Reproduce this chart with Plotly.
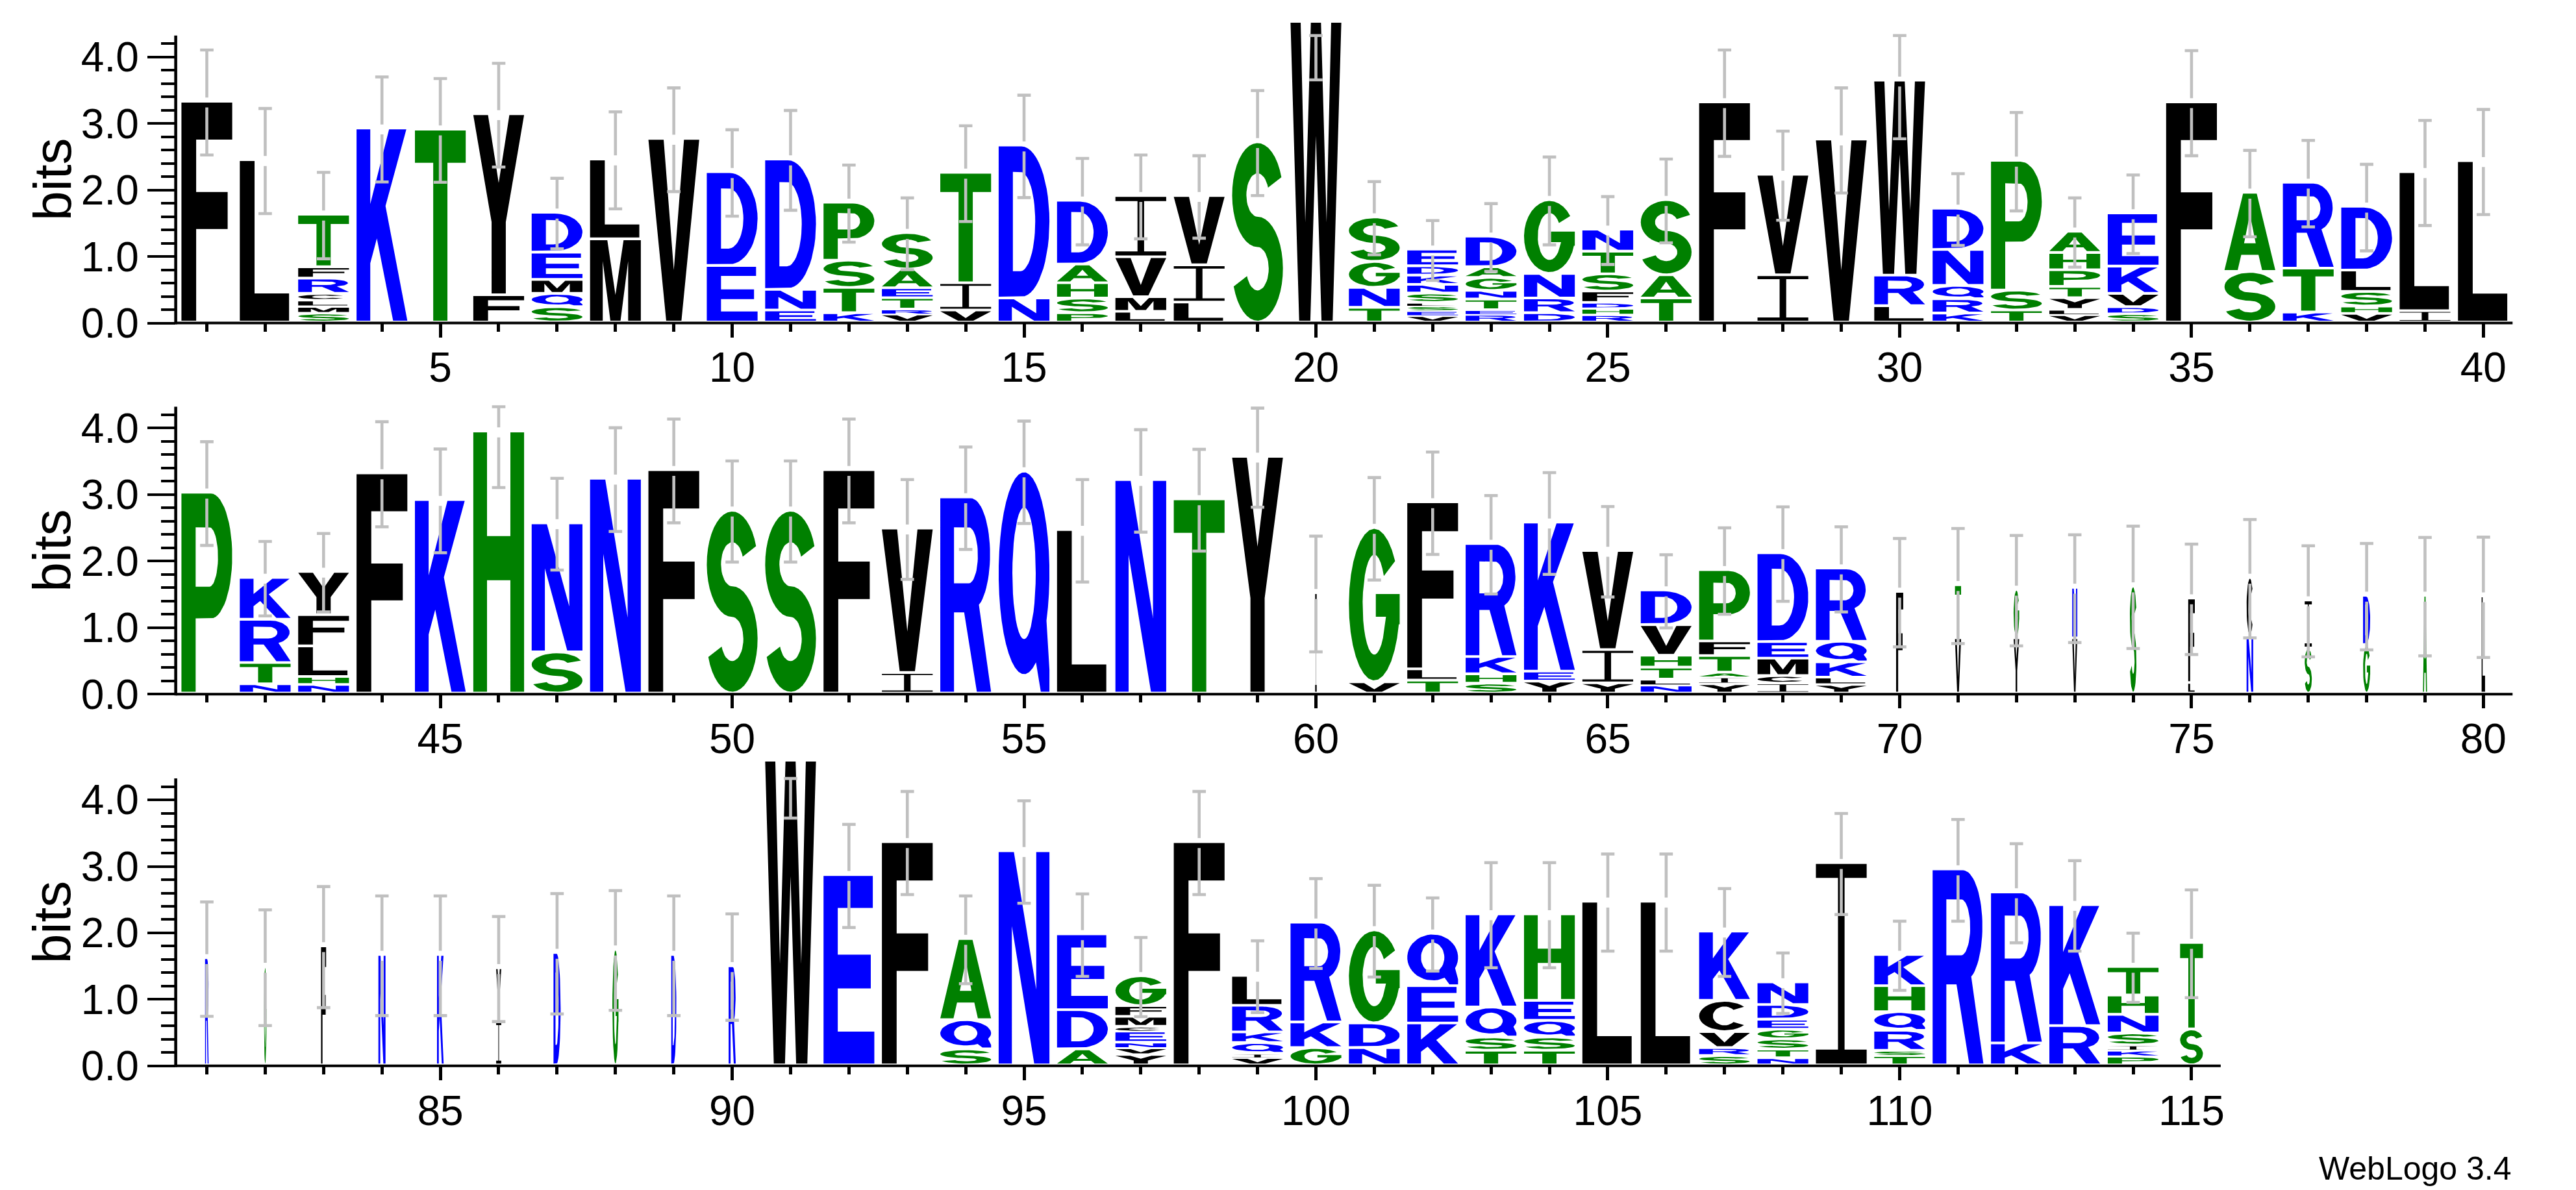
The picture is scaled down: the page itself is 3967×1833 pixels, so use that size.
import math
import plotly.graph_objects as go

# ---------------- data ----------------
STACK_LETTERS = [
    "F", "L", "TFRCLMS", "K", "T", "YF", "DEMQS", "LM", "V", "DE",
    "DNE", "PSTK", "SAETRV", "TIV", "DN", "DAHSP", "IVML", "VIL", "S", "W",
    "SGNT", "EDKNSLSEV", "DAGNTER", "GNRD", "NTSFDHR", "SAT", "F", "VI", "V", "WRL",
    "DNQRK", "PST", "AHPTYLV", "EKVDS", "F", "AS", "RTK", "DLSHV", "LI", "L",
    "P", "KRTN", "YFLHN", "F", "K", "H", "NS", "N", "F", "S",
    "S", "F", "VI", "R", "Q", "L", "N", "T", "Y", "I",
    "GV", "FLT", "RKHS", "KEY", "VIY", "DVHTLN", "PFTAIY", "DEMCI", "RQKLY", "F",
    "TV", "GY", "NV", "S", "FL", "CN", "IS", "DG", "A", "L",
    "R", "G", "F", "N", "K", "YI", "D", "G", "D", "R",
    "W", "E", "F", "AQS", "N", "EDA", "GFMCENVY", "F", "LRKQIV", "RKG",
    "GDN", "QEK", "KQST", "HEQST", "L", "L", "KCVRS", "NDEGSTN", "I", "KHQRST",
    "R", "RK", "KR", "THNSIKP", "TS",
]

# letter heights in bits, listed top of stack first
STACK_HEIGHTS = [
    [3.28], [2.40], [0.79, 0.17, 0.23, 0.10, 0.095, 0.10, 0.095], [2.875], [2.86], [2.72, 0.37],
    [0.60, 0.41, 0.21, 0.20, 0.19], [1.20, 1.21], [2.72], [1.41, 0.81],
    [1.96, 0.31, 0.14], [0.87, 0.41, 0.38, 0.10], [0.55, 0.28, 0.15, 0.17, 0.075, 0.08], [1.66, 0.41, 0.14],
    [2.30, 0.32], [0.96, 0.28, 0.23, 0.22, 0.10], [0.92, 0.60, 0.22, 0.12], [1.04, 0.56, 0.26], [2.67], [4.48],
    [0.67, 0.39, 0.30, 0.18], [0.25, 0.14, 0.14, 0.13, 0.14, 0.05, 0.075, 0.075, 0.055],
    [0.46, 0.16, 0.195, 0.13, 0.16, 0.07, 0.075], [1.11, 0.37, 0.22, 0.10],
    [0.33, 0.34, 0.26, 0.17, 0.09, 0.095, 0.07], [1.13, 0.35, 0.32], [3.27], [1.51, 0.67], [2.71], [2.93, 0.46, 0.205],
    [0.62, 0.54, 0.20, 0.215, 0.095], [1.95, 0.30, 0.14], [0.32, 0.26, 0.25, 0.17, 0.175, 0.08, 0.07],
    [0.80, 0.41, 0.20, 0.105, 0.085], [3.27], [1.19, 0.72], [1.29, 0.66, 0.11], [0.96, 0.32, 0.22, 0.11, 0.09],
    [2.09, 0.13], [2.385],
    [2.98], [0.63, 0.65, 0.32, 0.10], [0.65, 0.47, 0.46, 0.12, 0.09], [3.27], [2.87], [3.90], [1.94, 0.58],
    [3.19], [3.32], [2.71],
    [2.71], [3.32], [2.17, 0.27], [2.91], [3.30], [2.42], [3.17], [2.88], [3.52], [1.47],
    [2.32, 0.13], [2.51, 0.17, 0.155], [1.70, 0.26, 0.14, 0.11], [2.24, 0.15, 0.14], [1.49, 0.50, 0.115],
    [0.52, 0.46, 0.18, 0.18, 0.09, 0.08], [1.07, 0.22, 0.25, 0.07, 0.105, 0.10], [1.335, 0.25, 0.26, 0.115, 0.11],
    [1.10, 0.31, 0.23, 0.11, 0.09], [1.49],
    [0.80, 0.79], [0.73, 0.79], [0.76, 0.79], [1.57], [1.27, 0.12], [0.88, 0.82], [0.72, 0.64], [0.74, 0.69],
    [1.43], [1.42],
    [1.57], [1.44], [1.75], [1.62], [1.62], [0.80, 0.62], [1.65], [1.70], [1.62], [1.45],
    [4.54], [2.82], [3.315], [1.22, 0.44, 0.20], [3.18], [1.14, 0.59, 0.20],
    [0.45, 0.16, 0.15, 0.073, 0.165, 0.085, 0.10, 0.117], [3.315], [0.45, 0.40, 0.16, 0.16, 0.065, 0.07],
    [1.50, 0.385, 0.22],
    [1.40, 0.37, 0.22], [0.79, 0.56, 0.59], [1.40, 0.45, 0.20, 0.18], [1.30, 0.30, 0.25, 0.20, 0.18], [2.42], [2.42],
    [1.04, 0.47, 0.24, 0.12, 0.10], [0.34, 0.22, 0.15, 0.146, 0.154, 0.13, 0.067], [3.00],
    [0.47, 0.39, 0.28, 0.30, 0.08, 0.10],
    [2.905], [2.27, 0.29], [1.82, 0.55], [0.43, 0.29, 0.28, 0.18, 0.08, 0.09, 0.09], [1.30, 0.50],
]

# half-length of the error bar (bits)
ERROR_BITS = [
    0.79, 0.79, 0.65, 0.79, 0.78, 0.78, 0.53, 0.73, 0.78, 0.65,
    0.75, 0.58, 0.54, 0.72, 0.77, 0.65, 0.63, 0.62, 0.79, 0.86,
    0.55, 0.45, 0.51, 0.66, 0.51, 0.63, 0.80, 0.67, 0.79, 0.86,
    0.54, 0.74, 0.52, 0.59, 0.79, 0.65, 0.65, 0.65, 0.79, 0.79,
    0.78, 0.56, 0.59, 0.79, 0.78, 0.83, 0.69, 0.78, 0.78, 0.76,
    0.76, 0.78, 0.75, 0.77, 0.77, 0.77, 0.77, 0.765, 0.745, 0.87,
    0.77, 0.77, 0.74, 0.765, 0.68, 0.55, 0.65, 0.71, 0.64, 0.815,
    0.865, 0.83, 0.81, 0.92, 0.83, 0.89, 0.835, 0.80, 0.89, 0.905,
    0.86, 0.87, 0.91, 0.90, 0.90, 0.79, 0.905, 0.90, 0.90, 0.80,
    0.85, 0.775, 0.775, 0.66, 0.77, 0.62, 0.595, 0.775, 0.54, 0.675,
    0.69, 0.55, 0.79, 0.79, 0.73, 0.73, 0.66, 0.455, 0.76, 0.52,
    0.765, 0.745, 0.68, 0.52, 0.81,
]

# relative stack width (fraction of sequences present)
STACK_WIDTH = [
    1, 1, 1, 1, 1, 1, 1, 1, 1, 1,
    1, 1, 1, 1, 1, 1, 1, 1, 1, 1,
    1, 1, 1, 1, 1, 1, 1, 1, 1, 1,
    1, 1, 1, 1, 1, 1, 1, 1, 1, 1,
    1, 1, 1, 1, 1, 1, 1, 1, 1, 1,
    1, 1, 1, 1, 1, 1, 1, 1, 1, 0.03,
    1, 1, 1, 1, 1, 1, 1, 1, 1, 0.14,
    0.12, 0.11, 0.10, 0.13, 0.13, 0.13, 0.14, 0.14, 0.08, 0.07,
    0.07, 0.05, 0.10, 0.14, 0.13, 0.10, 0.14, 0.12, 0.10, 0.14,
    1, 1, 1, 1, 1, 1, 1, 1, 1, 1,
    1, 1, 1, 1, 1, 1, 1, 1, 1, 1,
    1, 1, 1, 1, 0.45,
]

ROWS = [(1, 40), (41, 80), (81, 115)]
Y_TICKS = [0, 1, 2, 3, 4]
Y_TICK_TEXT = ["0.0", "1.0", "2.0", "3.0", "4.0"]
Y_MINOR = [0.2, 0.4, 0.6, 0.8, 1.2, 1.4, 1.6, 1.8, 2.2, 2.4, 2.6, 2.8, 3.2, 3.4, 3.6, 3.8, 4.2]

COLOR = {}
for c in "FLYVMWIC":
    COLOR[c] = "#000000"
for c in "DEKRNQ":
    COLOR[c] = "#0000FF"
for c in "TSGHPA":
    COLOR[c] = "#008000"

# ---------------- layout constants (pixels) ----------------
FIG_W, FIG_H = 3967, 1833
PX_PER_BIT = 104.5
PX_PER_POS = 90.03
X_LEFT_PX = 263.0
ROW_BASE_PX = [499.4, 1082.5, 1666.6]
ROW_XRANGE = [(0.467, 40.5), (40.467, 80.5), (80.467, 115.5)]
MAXBITS = math.log2(20)
YTOP = 4.65
LETTER_W = 0.87
GAP = 0.04
BASE_OFF = 0.036
ERR_GAP = 0.075
CAP_HALF = 0.115
FONT = "Liberation Sans, Arial, Helvetica, sans-serif"


# ---------------- glyph outlines in a unit box ----------------
def arc(cx, cy, rx, ry, a0, a1, n=28):
    pts = []
    for i in range(n + 1):
        a = math.radians(a0 + (a1 - a0) * i / n)
        pts.append((cx + rx * math.cos(a), cy + ry * math.sin(a)))
    return pts


def signed_area(c):
    s = 0.0
    for i in range(len(c)):
        x1, y1 = c[i]
        x2, y2 = c[(i + 1) % len(c)]
        s += x1 * y2 - x2 * y1
    return s / 2


def oriented(c, ccw):
    if (signed_area(c) > 0) != ccw:
        return c[::-1]
    return c


def build_glyphs():
    g = {}
    g["A"] = ([[(0, 0), (0.26, 0), (0.33, 0.20), (0.67, 0.20), (0.74, 0), (1, 0), (0.635, 1), (0.365, 1)]],
              [[(0.385, 0.35), (0.615, 0.35), (0.5, 0.73)]])
    g["C"] = ([arc(0.5, 0.5, 0.5, 0.5, 40, 320) + arc(0.5, 0.5, 0.23, 0.33, 320, 40)], [])
    g["D"] = ([[(0, 0), (0.45, 0)] + arc(0.45, 0.5, 0.55, 0.5, -90, 90)[1:-1] + [(0.45, 1), (0, 1)]],
              [[(0.28, 0.17), (0.43, 0.17)] + arc(0.43, 0.5, 0.29, 0.33, -90, 90)[1:-1] + [(0.43, 0.83), (0.28, 0.83)]])
    g["E"] = ([[(0, 0), (1, 0), (1, 0.17), (0.28, 0.17), (0.28, 0.40), (0.93, 0.40), (0.93, 0.58), (0.28, 0.58),
                (0.28, 0.83), (0.97, 0.83), (0.97, 1), (0, 1)]], [])
    g["F"] = ([[(0, 0), (0.29, 0), (0.29, 0.42), (0.91, 0.42), (0.91, 0.59), (0.29, 0.59), (0.29, 0.83),
                (1, 0.83), (1, 1), (0, 1)]], [])
    g["G"] = ([arc(0.5, 0.5, 0.5, 0.5, 35, 345) +
               [(1.0, 0.37), (1.0, 0.57), (0.53, 0.57), (0.53, 0.42), (0.73, 0.42)] +
               arc(0.5, 0.5, 0.23, 0.33, 340, 35)], [])
    g["H"] = ([[(0, 0), (0.27, 0), (0.27, 0.43), (0.73, 0.43), (0.73, 0), (1, 0), (1, 1), (0.73, 1),
                (0.73, 0.60), (0.27, 0.60), (0.27, 1), (0, 1)]], [])
    g["I"] = ([[(0, 0), (1, 0), (1, 0.07), (0.565, 0.07), (0.565, 0.93), (1, 0.93), (1, 1), (0, 1),
                (0, 0.93), (0.435, 0.93), (0.435, 0.07), (0, 0.07)]], [])
    g["K"] = ([[(0, 0), (0.27, 0), (0.27, 0.30), (0.40, 0.43), (0.72, 0), (1.0, 0), (0.57, 0.60),
                (0.98, 1), (0.64, 1), (0.27, 0.61), (0.27, 1), (0, 1)]], [])
    g["L"] = ([[(0, 0), (0.97, 0), (0.97, 0.17), (0.29, 0.17), (0.29, 1), (0, 1)]], [])
    g["M"] = ([[(0, 0), (0.25, 0), (0.25, 0.74), (0.40, 0), (0.60, 0), (0.75, 0.74), (0.75, 0), (1, 0),
                (1, 1), (0.66, 1), (0.5, 0.32), (0.34, 1), (0, 1)]], [])
    g["N"] = ([[(0, 0), (0.26, 0), (0.26, 0.65), (0.70, 0), (1, 0), (1, 1), (0.74, 1), (0.74, 0.35),
                (0.30, 1), (0, 1)]], [])
    g["P"] = ([[(0, 0), (0.28, 0), (0.28, 0.37), (0.58, 0.37)] + arc(0.58, 0.685, 0.42, 0.315, -90, 90)[1:-1] +
               [(0.58, 1), (0, 1)]],
              [[(0.28, 0.53), (0.55, 0.53)] + arc(0.55, 0.68, 0.17, 0.15, -90, 90)[1:-1] + [(0.55, 0.83), (0.28, 0.83)]])
    g["Q"] = ([arc(0.5, 0.54, 0.5, 0.46, -28, 298, 40) + [(0.83, 0.0), (1.0, 0.0), (1.0, 0.10)]],
              [arc(0.5, 0.54, 0.23, 0.30, 0, 360, 40)[:-1]])
    g["R"] = ([[(0, 0), (0.27, 0), (0.27, 0.41), (0.47, 0.41), (0.72, 0), (1.0, 0), (0.76, 0.45)] +
               arc(0.60, 0.71, 0.38, 0.29, -58, 90) + [(0, 1)]],
              [[(0.27, 0.56), (0.56, 0.56)] + arc(0.56, 0.705, 0.18, 0.145, -90, 90)[1:-1] + [(0.56, 0.85), (0.27, 0.85)]])
    tx, ty = 0.14, 0.085
    ry = (0.5 - ty) / 2
    rx = 0.5 - tx
    ct, cb = 0.5 + ry, 0.5 - ry
    g["S"] = ([arc(0.5, ct, rx + tx, ry + ty, 20, 270) + arc(0.5, cb, rx - tx, ry - ty, 90, -160) +
               arc(0.5, cb, rx + tx, ry + ty, -160, 90) + arc(0.5, ct, rx - tx, ry - ty, 270, 20)], [])
    g["T"] = ([[(0.36, 0), (0.64, 0), (0.64, 0.83), (1, 0.83), (1, 1), (0, 1), (0, 0.83), (0.36, 0.83)]], [])
    g["V"] = ([[(0.35, 0), (0.65, 0), (1, 1), (0.70, 1), (0.5, 0.28), (0.30, 1), (0, 1)]], [])
    g["W"] = ([[(0.17, 0), (0.39, 0), (0.5, 0.62), (0.61, 0), (0.83, 0), (1, 1), (0.80, 1), (0.71, 0.33),
                (0.60, 1), (0.40, 1), (0.29, 0.33), (0.20, 1), (0, 1)]], [])
    g["Y"] = ([[(0.36, 0), (0.64, 0), (0.64, 0.40), (1, 1), (0.71, 1), (0.5, 0.62), (0.29, 1), (0, 1),
                (0.36, 0.40)]], [])
    out = {}
    for k, (outers, holes) in g.items():
        out[k] = [oriented(c, True) for c in outers] + [oriented(c, False) for c in holes]
    return out


GLYPHS = build_glyphs()

# ---------------- build figure ----------------
fig = go.Figure()
layout = dict(width=FIG_W, height=FIG_H, margin=dict(l=0, r=0, t=0, b=0),
              paper_bgcolor="white", plot_bgcolor="white", showlegend=False)
shapes = []
annotations = []

for ri, (p0, p1) in enumerate(ROWS):
    sfx = "" if ri == 0 else str(ri + 1)
    xa, ya = "x" + sfx, "y" + sfx
    polys = {}
    ex, ey = [], []
    for pos in range(p0, p1 + 1):
        i = pos - 1
        letters = STACK_LETTERS[i]
        hs = STACK_HEIGHTS[i]
        w = LETTER_W * STACK_WIDTH[i]
        y = BASE_OFF
        n = len(letters)
        for k in range(n - 1, -1, -1):
            L = letters[k]
            h = hs[k]
            gap = 0.0 if k == n - 1 else min(GAP, 0.35 * h)
            y0, y1 = y + gap, y + h
            col = COLOR[L]
            px_, py_ = polys.setdefault(col, ([], []))
            for contour in GLYPHS[L]:
                for (u, v) in contour:
                    px_.append(pos - w / 2 + u * w)
                    py_.append(y0 + v * (y1 - y0))
                px_.append(None)
                py_.append(None)
            y = y1
        top = y
        e = ERROR_BITS[i]
        lo = top - e
        hi = min(top + e, MAXBITS)
        if hi > top + ERR_GAP:
            ex += [pos, pos, None]
            ey += [top + ERR_GAP, hi, None]
        ex += [pos, pos, None]
        ey += [lo, min(top - ERR_GAP, hi), None]
        ex += [pos - CAP_HALF, pos + CAP_HALF, None, pos - CAP_HALF, pos + CAP_HALF, None]
        ey += [lo, lo, None, hi, hi, None]

    for col, (px_, py_) in polys.items():
        fig.add_trace(go.Scatter(x=px_, y=py_, mode="lines", fill="toself", fillcolor=col,
                                 line=dict(width=0, color=col), hoverinfo="skip",
                                 xaxis=xa, yaxis=ya, showlegend=False))
    fig.add_trace(go.Scatter(x=ex, y=ey, mode="lines", line=dict(color="#c0c0c0", width=4.6),
                             hoverinfo="skip", xaxis=xa, yaxis=ya, showlegend=False))

    base = ROW_BASE_PX[ri]
    xr0, xr1 = ROW_XRANGE[ri]
    right_px = X_LEFT_PX + (xr1 - xr0) * PX_PER_POS
    xdom = [X_LEFT_PX / FIG_W, right_px / FIG_W]
    ydom = [1 - base / FIG_H, 1 - (base - YTOP * PX_PER_BIT) / FIG_H]
    major = [p for p in range(p0, p1 + 1) if p % 5 == 0]
    minor = list(range(p0, p1 + 1))
    layout["xaxis" + sfx] = dict(
        domain=xdom, range=[xr0, xr1], anchor=ya, tickmode="array", tickvals=major,
        ticktext=[str(p) for p in major], ticks="outside", ticklen=21, tickwidth=4.5, tickcolor="black",
        showgrid=False, zeroline=False, showline=False, ticklabelstandoff=-8,
        tickfont=dict(family=FONT, size=64, color="black"),
        minor=dict(tickmode="array", tickvals=minor, ticks="outside", ticklen=12, tickwidth=4.5,
                   tickcolor="black", showgrid=False),
        fixedrange=True)
    layout["yaxis" + sfx] = dict(
        domain=ydom, range=[0, YTOP], anchor=xa, tickmode="array", tickvals=Y_TICKS, ticktext=Y_TICK_TEXT,
        ticks="outside", ticklen=43, tickwidth=4, tickcolor="black", showgrid=False, zeroline=False,
        showline=False, tickfont=dict(family=FONT, size=64, color="black"),
        minor=dict(tickmode="array", tickvals=Y_MINOR, ticks="outside", ticklen=22, tickwidth=4,
                   tickcolor="black", showgrid=False),
        fixedrange=True)
    # axis lines (paper coordinates so they are not clipped)
    y0p = 1 - base / FIG_H
    y1p = 1 - (base - MAXBITS * PX_PER_BIT) / FIG_H
    shapes.append(dict(type="line", xref="paper", yref="paper", x0=xdom[0], x1=xdom[0], y0=y0p - 2 / FIG_H,
                       y1=y1p, line=dict(color="black", width=4.6)))
    shapes.append(dict(type="line", xref="paper", yref="paper", x0=xdom[0], x1=xdom[1], y0=y0p, y1=y0p,
                       line=dict(color="black", width=4)))
    annotations.append(dict(text="bits", xref="paper", yref="paper", x=72 / FIG_W,
                            y=1 - (base - MAXBITS * PX_PER_BIT / 2) / FIG_H, textangle=-90,
                            xanchor="center", yanchor="middle", showarrow=False,
                            font=dict(family=FONT, size=82, color="black")))

annotations.append(dict(text="WebLogo 3.4", xref="paper", yref="paper", x=3868 / FIG_W, y=1 - 1828 / FIG_H,
                        xanchor="right", yanchor="middle", showarrow=False,
                        font=dict(family=FONT, size=50, color="black")))
layout["shapes"] = shapes
layout["annotations"] = annotations
fig.update_layout(**layout)
fig.write_html("out.html")
